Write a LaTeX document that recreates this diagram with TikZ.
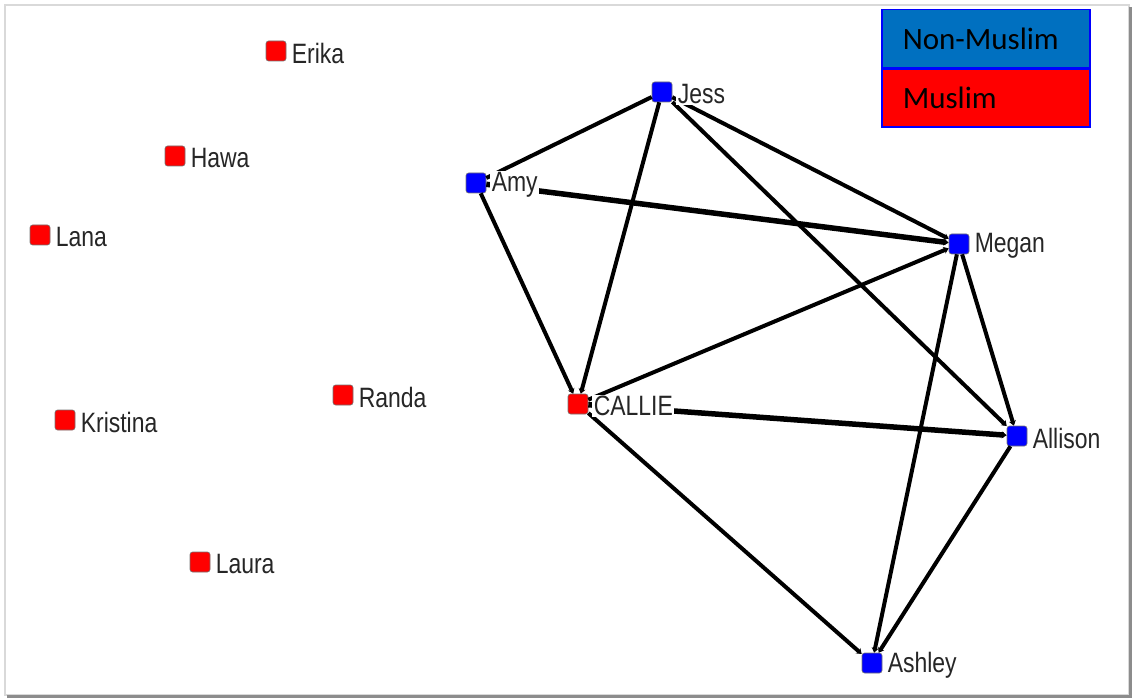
\documentclass[tikz,border=0pt]{standalone}
\usepackage{fontspec}
\setmainfont[FakeStretch=0.82]{Liberation Sans}
\newfontfamily\legendfont{Carlito}
\usetikzlibrary{arrows.meta,positioning}

\definecolor{nonmuslimblue}{RGB}{0,112,192}

\begin{document}
\begin{tikzpicture}[x=1pt,y=-1pt,>={Stealth[length=5pt,width=7pt]},
                    line width=4pt]
\tikzstyle{every node}=[font=\fontsize{28}{30}\selectfont]
\tikzstyle{actor}=[rectangle,rounded corners=2.5pt,minimum size=20pt,inner sep=0pt,
                   draw=black!55,line width=0.6pt]
\tikzstyle{muslimactor}=[actor,fill=red]
\tikzstyle{nonmuslimactor}=[actor,fill=blue]
\tikzstyle{actorname}=[fill=white,inner sep=1.5pt,text=black!85,yshift=-2pt]
\tikzstyle{legendbox}=[draw=blue,line width=1.5pt,minimum width=208pt,minimum height=58pt,
                       inner xsep=21pt,text width=166pt,align=left,
                       font=\legendfont\fontsize{31}{33}\selectfont]

\useasboundingbox (0,0) rectangle (1134,700);
% frame
\draw[line width=1.5pt,black!15] (5,5) rectangle (1129,695);
\draw[line width=2.5pt,black!45] (7,696.5) -- (1130.5,696.5) -- (1130.5,7);

% actors
\node [muslimactor] (erika) at (276,51) {};
\node [muslimactor] (hawa) at (175,156) {};
\node [muslimactor] (lana) at (40,235) {};
\node [muslimactor] (kristina) at (65,420) {};
\node [muslimactor] (randa) at (343,395) {};
\node [muslimactor] (laura) at (200,562) {};
\node [muslimactor] (callie) at (578,404) {};
\node [nonmuslimactor] (jess) at (662,92) {};
\node [nonmuslimactor] (amy) at (476,183) {};
\node [nonmuslimactor] (megan) at (959,244) {};
\node [nonmuslimactor] (allison) at (1017,436) {};
\node [nonmuslimactor] (ashley) at (872,663) {};

% ties
\draw (amy) -- (jess);
\draw[->] (jess) -- (callie);
\draw[->] (amy) -- (callie);
\draw[->] (jess) -- (megan);
\draw[->] (jess) -- (allison);
\draw[->,line width=5.5pt] (amy) -- (megan);
\draw[->] (callie) -- (megan);
\draw[->,line width=5.5pt] (callie) -- (allison);
\draw[->] (callie) -- (ashley);
\draw[->] (megan) -- (allison);
\draw[->] (megan) -- (ashley);
\draw[->] (allison) -- (ashley);

% names
\node [actorname,right=2pt of erika] (erikaname) {Erika};
\node [actorname,right=2pt of hawa] (hawaname) {Hawa};
\node [actorname,right=2pt of lana] (lananame) {Lana};
\node [actorname,right=2pt of kristina] (kristinaname) {Kristina};
\node [actorname,right=2pt of randa] (randaname) {Randa};
\node [actorname,right=2pt of laura] (lauraname) {Laura};
\node [actorname,right=2pt of callie] (calliename) {CALLIE};
\node [actorname,right=2pt of jess] (jessname) {Jess};
\node [actorname,right=2pt of amy] (amyname) {Amy};
\node [actorname,right=2pt of megan] (meganname) {Megan};
\node [actorname,right=2pt of allison] (allisonname) {Allison};
\node [actorname,right=2pt of ashley] (ashleyname) {Ashley};

% legend
\node [legendbox,fill=nonmuslimblue,anchor=north west] (nonmuslim) at (881,9) {Non-Muslim};
\node [legendbox,fill=red,below=0pt of nonmuslim] (muslim) {Muslim};
\end{tikzpicture}
\end{document}
